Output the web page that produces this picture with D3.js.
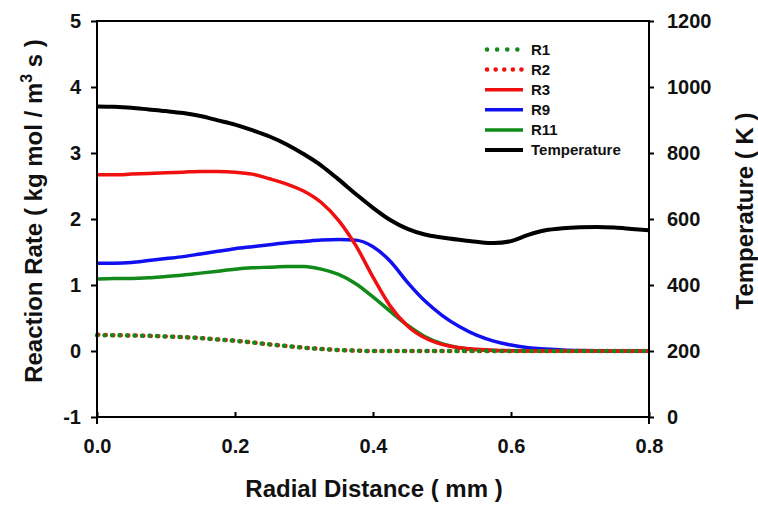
<!DOCTYPE html>
<html>
<head>
<meta charset="utf-8">
<script src="https://cdn.jsdelivr.net/npm/d3@7"></script>
<style>
  body { margin: 0; background: #fff; }
  text { font-family: "Liberation Sans", Arial, sans-serif; font-weight: bold; fill: #111; }
</style>
</head>
<body>
<div id="chart"></div>
<script>
/**
 * Data: radial distance (mm) shared by all series
 */
var radial = [0, 0.025, 0.05, 0.075, 0.1, 0.125, 0.15, 0.175, 0.2, 0.225, 0.25, 0.275,
              0.3, 0.325, 0.35, 0.375, 0.4, 0.425, 0.45, 0.475, 0.5, 0.525, 0.55, 0.575,
              0.6, 0.625, 0.65, 0.675, 0.7, 0.725, 0.75, 0.775, 0.8];

var r1  = [0.24, 0.24, 0.235, 0.23, 0.22, 0.21, 0.195, 0.175, 0.155, 0.13, 0.10, 0.075,
           0.05, 0.03, 0.015, 0.005, 0, 0, 0, 0, 0, 0, 0, 0, 0, 0, 0, 0, 0, 0, 0, 0, 0];
var r2  = [0.245, 0.24, 0.235, 0.23, 0.22, 0.21, 0.195, 0.175, 0.155, 0.13, 0.10, 0.075,
           0.05, 0.03, 0.015, 0.005, 0, 0, 0, 0, 0, 0, 0, 0, 0, 0, 0, 0, 0, 0, 0, 0, 0];
var r3  = [2.67, 2.67, 2.68, 2.69, 2.70, 2.71, 2.72, 2.72, 2.71, 2.68, 2.61, 2.53,
           2.42, 2.25, 1.98, 1.60, 1.12, 0.68, 0.38, 0.20, 0.10, 0.05, 0.025, 0.01,
           0.005, 0, 0, 0, 0, 0, 0, 0, 0];
var r9  = [1.33, 1.33, 1.34, 1.37, 1.40, 1.43, 1.47, 1.51, 1.55, 1.58, 1.61, 1.64,
           1.66, 1.68, 1.69, 1.68, 1.58, 1.36, 1.04, 0.76, 0.54, 0.37, 0.24, 0.15,
           0.09, 0.05, 0.03, 0.015, 0.007, 0.003, 0.001, 0, 0];
var r11 = [1.09, 1.10, 1.10, 1.11, 1.13, 1.15, 1.18, 1.21, 1.24, 1.26, 1.27, 1.28,
           1.28, 1.24, 1.16, 1.02, 0.82, 0.60, 0.39, 0.22, 0.11, 0.05, 0.02, 0.008,
           0.003, 0, 0, 0, 0, 0, 0, 0, 0];
var temperature = [941, 940, 937, 932, 927, 921, 912, 899, 886, 869, 850, 826,
                   796, 762, 720, 676, 634, 597, 570, 553, 544, 537, 531, 527,
                   533, 552, 566, 572, 575, 576, 574, 570, 566];

var xTicks = [0, 0.2, 0.4, 0.6, 0.8];
var rateTicks = [-1, 0, 1, 2, 3, 4, 5];
var tempTicks = [0, 200, 400, 600, 800, 1000, 1200];

var legendNames = ["R1", "R2", "R3", "R9", "R11", "Temperature"];

/**
 * Layout (plot box edges in pixels)
 */
var W = 758, H = 505;
var boxLeft = 97, boxRight = 649, boxTop = 21, boxBottom = 417;

var svg = d3.select("#chart").append("svg")
            .attr("width", W)
            .attr("height", H);

var x = d3.scaleLinear().domain([0, 0.8]).range([boxLeft, boxRight]);
var yRate = d3.scaleLinear().domain([-1, 5]).range([boxBottom, boxTop]);
var yTemp = d3.scaleLinear().domain([0, 1200]).range([boxBottom, boxTop]);

// series table built from the arrays above
var series = [
  {name: "R1", values: r1, color: "#118a1a", dotted: true, offset: 0},
  {name: "R2", values: r2, color: "#f01010", dotted: true, offset: 1.2},
  {name: "R3", values: r3, color: "#f01010"},
  {name: "R9", values: r9, color: "#1010f0"},
  {name: "R11", values: r11, color: "#118a1a"},
  {name: "Temperature", values: temperature, color: "#000", temp: true}
];

function lineFor(s) {
  var yScale = s.temp ? yTemp : yRate;
  return d3.line()
           .curve(d3.curveMonotoneX)
           .x(function(d, i) { return x(radial[i]); })
           .y(function(d) { return yScale(d); });
}

var plot = svg.append("g");
series.slice().reverse().forEach(function(s) {
  var p = plot.append("path")
              .datum(s.values)
              .attr("d", lineFor(s))
              .attr("fill", "none")
              .attr("stroke", s.color)
              .attr("stroke-width", s.temp ? 4 : 3.5)
              .attr("stroke-linejoin", "round");
  if (s.dotted) {
    p.attr("stroke-width", 4.5)
     .attr("stroke-linecap", "round")
     .attr("stroke-dasharray", "0.1,7.4")
     .attr("stroke-dashoffset", -s.offset);
  }
});

/**
 * Axes
 */
var fontSize = "20px";
var plain = function(d) { return String(d); };

var gLeft = svg.append("g")
               .attr("transform", "translate(" + boxLeft + ",0)")
               .call(d3.axisLeft(yRate).tickValues(rateTicks).tickSize(6).tickPadding(10)
                       .tickFormat(plain));
var gRight = svg.append("g")
                .attr("transform", "translate(" + boxRight + ",0)")
                .call(d3.axisRight(yTemp).tickValues(tempTicks).tickSize(5).tickPadding(13)
                        .tickFormat(plain));
var gBottom = svg.append("g")
                 .attr("transform", "translate(0," + boxBottom + ")")
                 .call(d3.axisBottom(x).tickValues(xTicks).tickSize(-5).tickPadding(22)
                         .tickFormat(d3.format(".1f")));

[gLeft, gRight, gBottom].forEach(function(g) {
  g.select(".domain").remove();
  g.selectAll("line").attr("stroke", "#000").attr("stroke-width", 2);
  g.selectAll("text")
   .attr("font-size", fontSize)
   .attr("font-family", null)
   .attr("fill", "#111");
});

// frame, the side axes run a little past the bottom line
svg.append("path")
   .attr("d", "M" + boxLeft + "," + (boxBottom + 7) + "V" + boxTop + "H" + boxRight + "V" + (boxBottom + 7) +
              "M" + (boxLeft - 1) + "," + boxBottom + "H" + (boxRight + 1))
   .attr("fill", "none")
   .attr("stroke", "#000")
   .attr("stroke-width", 2);

/**
 * Axis titles
 */
svg.append("text")
   .attr("x", (boxLeft + boxRight) / 2 + 1)
   .attr("y", 497)
   .attr("text-anchor", "middle")
   .attr("font-size", "24px")
   .text("Radial Distance ( mm )");

var yTitle = svg.append("text")
                .attr("transform", "translate(42,211) rotate(-90)")
                .attr("text-anchor", "middle")
                .attr("font-size", "24px");
yTitle.append("tspan").text("Reaction Rate ( kg mol / m");
yTitle.append("tspan").attr("font-size", "16px").attr("dy", -10).text("3");
yTitle.append("tspan").attr("dy", 10).text(" s )");

svg.append("text")
   .attr("transform", "translate(753,211) rotate(-90)")
   .attr("text-anchor", "middle")
   .attr("font-size", "24px")
   .text("Temperature ( K )");

/**
 * Legend
 */
var legend = svg.append("g");
series.forEach(function(s, i) {
  var ly = 49.5 + i * 20.1;
  var l = legend.append("line")
                .attr("x1", 485).attr("x2", 523)
                .attr("y1", ly).attr("y2", ly)
                .attr("stroke", s.color)
                .attr("stroke-width", s.temp ? 4 : 3.5);
  if (s.dotted) {
    l.attr("x1", 487).attr("x2", i == 0 ? 520 : 524)
     .attr("stroke-width", 4.5)
     .attr("stroke-linecap", "round")
     .attr("stroke-dasharray", i == 0 ? "0.1,10" : "0.1,8.5");
  }
  legend.append("text")
        .attr("x", 531)
        .attr("y", ly)
        .attr("dy", "0.36em")
        .attr("font-size", "15px")
        .text(legendNames[i]);
});
</script>
</body>
</html>
